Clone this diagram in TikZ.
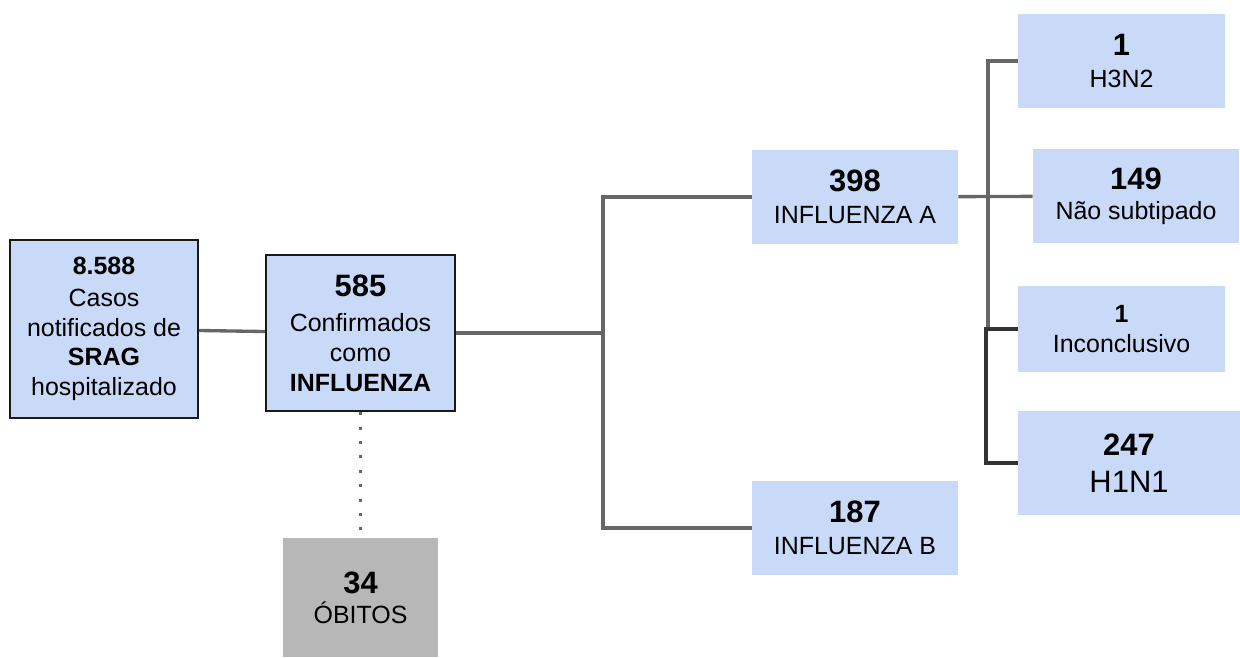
\documentclass[tikz,border=0pt]{standalone}
\usepackage{fontspec}
\setmainfont{Liberation Sans}
\usetikzlibrary{positioning, calc}
\definecolor{boxblue}{HTML}{C9DAF8}
\definecolor{boxgray}{HTML}{B7B7B7}
\definecolor{linegray}{HTML}{666666}
\newcommand{\bignum}[1]{{\fontsize{17.6pt}{17pt}\selectfont\bfseries #1}}

\begin{document}
\begin{tikzpicture}[x=0.02cm, y=-0.02cm,
    box/.style={fill=boxblue, align=center, inner sep=0pt, font=\fontsize{14.2pt}{17pt}\selectfont},
    framed/.style={box, draw=black!90, line width=1.4pt},
    link/.style={draw=linegray, line width=1.9pt},
    darklink/.style={draw=black!80, line width=1.9pt},
    dots/.style={draw=linegray, line width=1.7pt, dash pattern=on 1.7pt off 6.5pt}]
    \useasboundingbox (0, 0) rectangle (1240, 657);

    \node[framed, minimum width=3.76cm, minimum height=3.56cm] (srag) at (104, 329) {\textbf{8.588}\\[1pt]Casos\\notificados de\\\textbf{SRAG}\\hospitalizado};
    \node[framed, minimum width=3.78cm, minimum height=3.12cm] (conf) at (360.5, 333) {\bignum{585}\\[3pt]Confirmados\\como\\\textbf{INFLUENZA}};
    \node[box, fill=boxgray, minimum width=3.1cm, minimum height=2.38cm] (obitos) at (360.5, 597.5) {\bignum{34}\\ÓBITOS};
    \node[box, minimum width=4.12cm, minimum height=1.88cm] (infa) at (855, 197) {\bignum{398}\\[1pt]INFLUENZA A};
    \node[box, minimum width=4.12cm, minimum height=1.88cm] (infb) at (855, 528) {\bignum{187}\\[1pt]INFLUENZA B};
    \node[box, minimum width=4.14cm, minimum height=1.88cm] (h3n2) at (1121.5, 61) {\bignum{1}\\[1pt]H3N2};
    \node[box, minimum width=4.12cm, minimum height=1.88cm] (nao) at (1136, 196) {\bignum{149}\\Não subtipado};
    \node[box, minimum width=4.14cm, minimum height=1.72cm] (inconc) at (1121.5, 329) {\textbf{1}\\Inconclusivo};
    \node[box, minimum width=4.44cm, minimum height=2.08cm] (h1n1) at (1129, 463) {\bignum{247}\\[4pt]{\fontsize{17.6pt}{17pt}\selectfont H1N1}};

    \coordinate (split) at (603, 333);
    \coordinate (splitA) at (988, 197);
    \coordinate (splitH) at (986, 400);

    \draw[link] (srag) -- (conf);
    \draw[link] (conf) -- (split);
    \draw[link] (infa.west) -| (split) |- (infb.west);
    \draw[link] (infa) -- (nao);
    \draw[link] (h3n2.west) -| (splitA) |- (inconc.west);
    \draw[darklink] (inconc.west) -| (splitH) |- (h1n1.west);
    \draw[dots] (conf) -- (obitos);
\end{tikzpicture}
\end{document}
